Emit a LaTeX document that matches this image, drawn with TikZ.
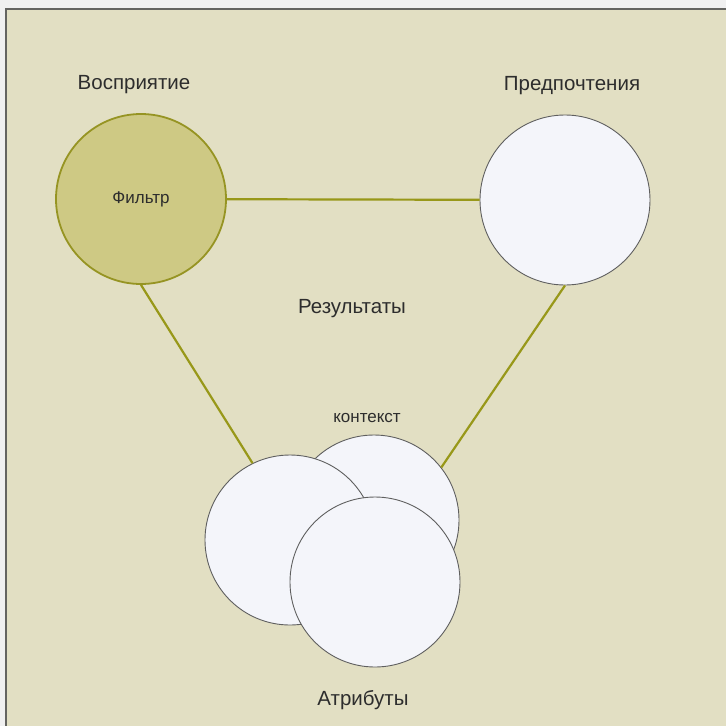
\documentclass[tikz,border=0pt]{standalone}
\usepackage{fontspec}
\setmainfont{Liberation Sans}
\usetikzlibrary{positioning}

\definecolor{outergray}{RGB}{240,240,240}
\definecolor{framegray}{RGB}{100,100,96}
\definecolor{panel}{RGB}{226,223,195}
\definecolor{olivefill}{RGB}{206,201,132}
\definecolor{olivedark}{RGB}{150,148,35}
\definecolor{oliveline}{RGB}{152,152,25}
\definecolor{blobwhite}{RGB}{244,245,250}
\definecolor{ringgray}{RGB}{95,95,95}
\definecolor{inkgray}{RGB}{45,45,45}

\begin{document}
\begin{tikzpicture}[
  x=1pt, y=-1pt,
  node distance=12pt,
  blob/.style={circle, draw=ringgray, fill=blobwhite, line width=0.9pt, minimum size=170pt, inner sep=0pt},
  filterblob/.style={blob, draw=olivedark, fill=olivefill, line width=1.8pt},
  lbl/.style={text=inkgray, font=\fontsize{20.5}{24}\selectfont},
  smalllbl/.style={text=inkgray, font=\fontsize{17}{20}\selectfont},
  link/.style={draw=oliveline, line width=2.2pt}
]
% frame
\useasboundingbox (0,0) rectangle (726,726);
\fill[outergray] (0,0) rectangle (726,726);
\fill[panel] (6,9) rectangle (726,726);
\draw[framegray, line width=2.4pt] (6,726) -- (6,9) -- (726,9);

% circles
\node[filterblob, smalllbl] (flt) at (141,199) {Фильтр};
\node[blob] (pref) at (565,200) {};
\node[blob] (ctx) at (374,520) {};
\node[blob] (attrA) at (290,540) {};
\node[blob] (attrB) at (375,582) {};

% labels
\node[lbl, above=16pt of flt, xshift=-7pt] (perc) {Восприятие};
\node[lbl, above=16pt of pref, xshift=7pt] (prefl) {Предпочтения};
\node[lbl, anchor=base] (res) at (352,313) {Результаты};
\node[smalllbl, above=8pt of ctx, xshift=-7pt] (ctxl) {контекст};
\node[lbl, below=19pt of attrB, xshift=-12pt] (attrl) {Атрибуты};

% links
\draw[link] (flt) -- (pref);
\draw[link] (flt.south) -- (attrA.116);
\draw[link] (pref.south) -- (ctx.38);
\end{tikzpicture}
\end{document}
